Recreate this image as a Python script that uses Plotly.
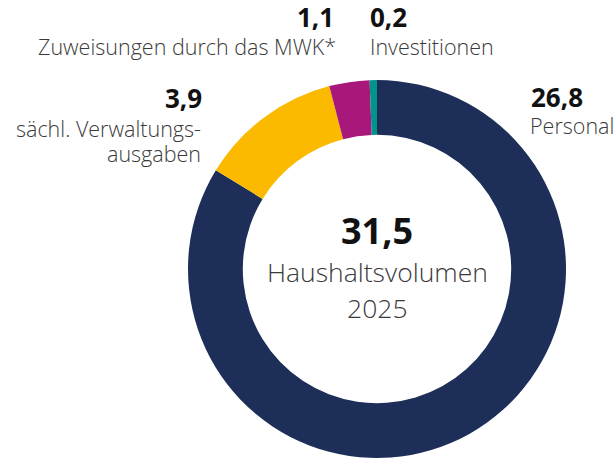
import plotly.graph_objects as go

# ---- data ----
categories = ["Personal", "sächl. Verwaltungs-ausgaben", "Zuweisungen durch das MWK*", "Investitionen"]
values = [26.8, 3.9, 1.1, 0.2]
colors = ["#1d2f59", "#fbb900", "#a8177a", "#00948c"]
total_value = 31.5
center_caption = ["Haushaltsvolumen", "2025"]

W, H = 615, 458


def fmt(v):
    return f"{v:.1f}".replace(".", ",")


def px(x):
    return x / W


def py(y):
    return 1 - y / H


fig = go.Figure(
    go.Pie(
        values=values,
        labels=categories,
        marker=dict(colors=colors, line=dict(width=0)),
        hole=0.71,
        sort=False,
        direction="clockwise",
        rotation=0,
        textinfo="none",
        hoverinfo="label+value",
        domain=dict(x=[187 / W, 567 / W], y=[0, 1 - 80 / H]),
        showlegend=False,
    )
)

FONT = "Open Sans"
VAL_SIZE = 26
LAB_SIZE = 21.5
VAL_COLOR = "#111111"
LAB_COLOR = "#3a3a3a"

ann = []


def add(text, x, baseline, size, anchor, bold=False, color=LAB_COLOR):
    ann.append(
        dict(
            text=text,
            x=px(x),
            y=py(baseline - 0.38 * size),
            xref="paper",
            yref="paper",
            xanchor=anchor,
            yanchor="middle",
            showarrow=False,
            borderpad=0,
            font=dict(family=FONT, size=size, color=color, weight=700 if bold else 300),
        )
    )


# Personal (right side)
add(fmt(values[0]), 530, 107, VAL_SIZE, "left", True, VAL_COLOR)
add(categories[0], 529, 134, LAB_SIZE, "left")
# sächl. Verwaltungsausgaben
add(fmt(values[1]), 203, 108, VAL_SIZE, "right", True, VAL_COLOR)
add("sächl. Verwaltungs-", 202, 137, LAB_SIZE, "right")
add("ausgaben", 202, 162, LAB_SIZE, "right")
# Zuweisungen
add(fmt(values[2]), 335, 27, VAL_SIZE, "right", True, VAL_COLOR)
add(categories[2], 337, 55, LAB_SIZE, "right")
# Investitionen
add(fmt(values[3]), 369, 27, VAL_SIZE, "left", True, VAL_COLOR)
add(categories[3], 369, 55, LAB_SIZE, "left")

# center
add(fmt(total_value), 377, 244, 36, "center", True, VAL_COLOR)
add(center_caption[0], 377, 282, 26.5, "center")
add(center_caption[1], 377, 318, 26.5, "center")

fig.update_layout(
    width=W,
    height=H,
    margin=dict(l=0, r=0, t=0, b=0),
    paper_bgcolor="white",
    plot_bgcolor="white",
    annotations=ann,
)

fig.write_html(
    "out.html",
    config={"displayModeBar": False},
    post_script="document.body.style.margin='0';",
)
